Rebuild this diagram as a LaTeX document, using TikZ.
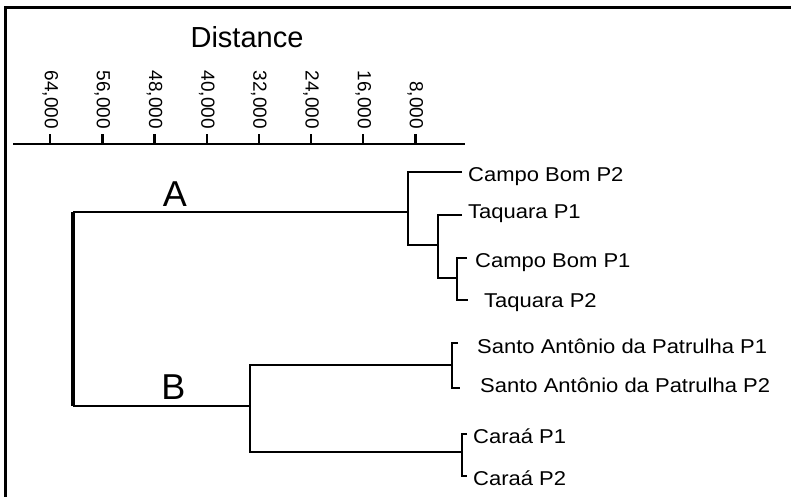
\documentclass[tikz,border=0pt]{standalone}
\usepackage{fontspec}
\setmainfont{Liberation Sans}
\newfontfamily\leaffont[FakeStretch=1.1]{Liberation Sans}
\begin{document}
\begin{tikzpicture}[x=1pt,y=-1pt,
  br/.style={line width=2.8pt, line join=miter},
  frameline/.style={line width=2.4pt},
  leaf/.style={anchor=base west, inner sep=0pt, font=\leaffont\fontsize{20}{20}\selectfont},
  ticklab/.style={anchor=east, rotate=-90, inner sep=0pt, font=\fontsize{19}{19}\selectfont},
  grp/.style={anchor=base, inner sep=0pt, font=\fontsize{36}{36}\selectfont}]
\useasboundingbox (0,0) rectangle (791,497);
% frame
\coordinate (fB) at (5.5,497);
\coordinate (fC) at (5.5,7.5);
\coordinate (fR) at (791,7.5);
\draw[frameline] (fB) -- (fC) -- (fR);
% axis
\node[anchor=base, inner sep=0pt, font=\fontsize{29}{29}\selectfont] (title) at (247,48) {Distance};
\coordinate (axL) at (13,144);
\coordinate (axR) at (465,144);
\draw[line width=2.6pt] (axL) -- (axR);
\foreach \v in {8,16,24,32,40,48,56,64}{
  \pgfmathsetmacro\xx{467.5-6.52*\v}
  \coordinate (t\v) at (\xx,144);
  \draw[line width=2.4pt] (t\v) -- ++(0,-10);
  \node[ticklab] (lab\v) at (\xx,129) {\v,000};
}
% coordinates of the tree
\coordinate (rA) at (73,212);
\coordinate (rB) at (73,406);
\coordinate (jA) at (408,212);
\coordinate (j2) at (438,245);
\coordinate (j3) at (457,278);
\coordinate (jB) at (250,406);
\coordinate (jSA) at (452,365);
\coordinate (jC) at (462,452);
\coordinate (eCB2) at (462,172);
\coordinate (eTQ1) at (462,215);
\coordinate (eCB1) at (467,258);
\coordinate (eTQ2) at (468,300);
\coordinate (eSA1) at (458,343);
\coordinate (eSA2) at (460,388);
\coordinate (eC1) at (467,434);
\coordinate (eC2) at (467,476);
% branches
\draw[line width=3.8pt] (rA) -- (rB);
\draw[br] (jA) -- (rA);
\draw[br] (rB) -- (jB);
\draw[br] (eCB2) -| (jA) |- (j2);
\draw[br] (eTQ1) -| (j2) |- (j3);
\draw[br] (eCB1) -| (j3) |- (eTQ2);
\draw[br] (jSA) -| (jB) |- (jC);
\draw[br] (eSA1) -| (jSA) |- (eSA2);
\draw[br] (eC1) -| (jC) |- (eC2);
% group labels
\node[grp] (gA) at (175,206) {A};
\node[grp] (gB) at (173.5,399) {B};
% leaves
\node[leaf] (CB2) at (468,181) {Campo Bom P2};
\node[leaf] (TQ1) at (468,218) {Taquara P1};
\node[leaf] (CB1) at (475,267) {Campo Bom P1};
\node[leaf] (TQ2) at (484,307) {Taquara P2};
\node[leaf] (SA1) at (477,353) {Santo Antônio da Patrulha P1};
\node[leaf] (SA2) at (480,392) {Santo Antônio da Patrulha P2};
\node[leaf] (C1) at (473,443) {Caraá P1};
\node[leaf] (C2) at (473,485) {Caraá P2};
\end{tikzpicture}
\end{document}
